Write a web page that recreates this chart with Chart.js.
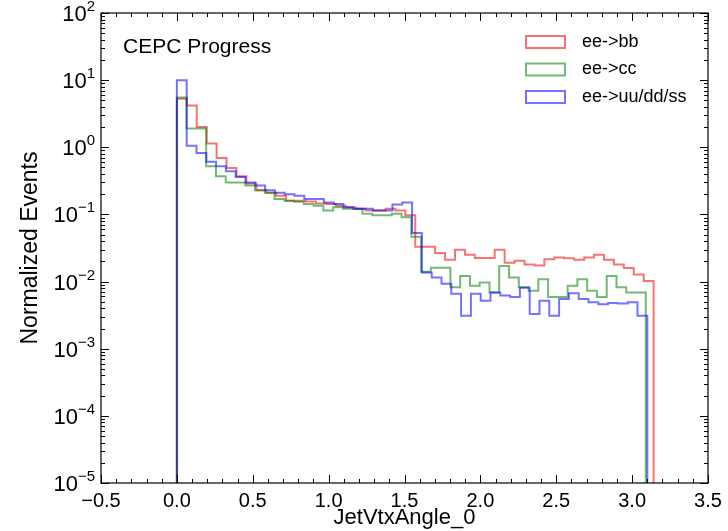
<!DOCTYPE html>
<html>
<head>
<meta charset="utf-8">
<script src="https://cdn.jsdelivr.net/npm/chart.js@4.4.1/dist/chart.umd.min.js"></script>
<style>
  html, body { margin: 0; padding: 0; background: #fff; }
  #wrap { width: 728px; height: 531px; }
</style>
</head>
<body>
<div id="wrap"><canvas id="jetChart" width="728" height="531"></canvas></div>
<script>
// histogram contents, 48 bins per sample
const nBins = 48;
const bbRange = [0, 3.1416];
const ccRange = [0, 3.09];
const udsRange = [0, 3.10];

const bbValues = [5.3, 4.2, 2.0, 1.14, 0.69, 0.49, 0.37, 0.29, 0.23, 0.21, 0.19, 0.16,
  0.16, 0.156, 0.146, 0.143, 0.135, 0.128, 0.121, 0.114, 0.114, 0.121, 0.114, 0.097,
  0.033, 0.033, 0.0266, 0.0212, 0.0297, 0.025, 0.0225, 0.0225, 0.0297, 0.019, 0.0205, 0.018,
  0.0173, 0.0215, 0.0228, 0.0222, 0.0212, 0.0228, 0.025, 0.0212, 0.018, 0.0159, 0.0127, 0.0102];

const ccValues = [5.5, 1.9, 1.9, 0.52, 0.37, 0.30, 0.30, 0.27, 0.23, 0.21, 0.17, 0.16,
  0.155, 0.143, 0.135, 0.114, 0.128, 0.121, 0.121, 0.102, 0.097, 0.097, 0.102, 0.091,
  0.0466, 0.014, 0.016, 0.016, 0.0082, 0.0121, 0.0087, 0.0097, 0.0069, 0.017, 0.0115, 0.0082,
  0.0073, 0.0108, 0.0059, 0.0059, 0.0087, 0.0108, 0.0073, 0.0059, 0.0121, 0.0082, 0.0069, 0.0069];

const udsValues = [10, 1.05, 0.82, 0.61, 0.52, 0.44, 0.36, 0.30, 0.27, 0.23, 0.21, 0.20,
  0.19, 0.17, 0.17, 0.151, 0.143, 0.128, 0.121, 0.121, 0.114, 0.114, 0.14, 0.151,
  0.053, 0.0136, 0.0115, 0.0093, 0.0066, 0.0031, 0.0066, 0.0052, 0.0069, 0.0062, 0.0059, 0.0081,
  0.0033, 0.0052, 0.0031, 0.0055, 0.0067, 0.0055, 0.0049, 0.0046, 0.0048, 0.0047, 0.0049, 0.0031];

const seriesLabels = ['ee->bb', 'ee->cc', 'ee->uu/dd/ss'];
const seriesColors = ['rgba(240,0,0,0.55)', 'rgba(0,128,0,0.55)', 'rgba(0,0,255,0.55)'];

const xMin = -0.5, xMax = 3.5, xStep = 0.5;
const yDecades = [-5, -4, -3, -2, -1, 0, 1, 2];
const yMin = 1e-5, yMax = 1e2;

const FONT = "'Liberation Sans', Arial, Helvetica, sans-serif";

// outline of a step histogram: up at the first edge, down at the last
function stepPoints(range, values) {
  const w = (range[1] - range[0]) / nBins;
  const pts = [{ x: range[0], y: yMin }];
  values.forEach((v, i) => pts.push({ x: range[0] + i * w, y: v }));
  pts.push({ x: range[1], y: yMin });
  return pts;
}

function fmtX(v) {
  const s = Math.abs(v).toFixed(1);
  return v < -1e-9 ? '\u2212' + s : s;
}

const decorPlugin = {
  id: 'decor',
  afterDatasetsDraw(chart) {
    const { ctx, chartArea: a, scales: { x, y } } = chart;
    ctx.save();
    ctx.strokeStyle = '#000';
    ctx.lineWidth = 1.2;
    ctx.strokeRect(a.left, a.top, a.right - a.left, a.bottom - a.top);

    // inward ticks on all four sides
    ctx.lineWidth = 1;
    ctx.beginPath();
    for (let k = 0; k <= Math.round((xMax - xMin) / 0.1); k++) {
      const px = Math.round(x.getPixelForValue(xMin + k * 0.1)) + 0.5;
      const len = k % 5 === 0 ? 8 : 4;
      ctx.moveTo(px, a.bottom); ctx.lineTo(px, a.bottom - len);
      ctx.moveTo(px, a.top); ctx.lineTo(px, a.top + len);
    }
    yDecades.forEach(d => {
      for (let m = 1; m <= 9; m++) {
        if (d === yDecades[yDecades.length - 1] && m > 1) break;
        const py = Math.round(y.getPixelForValue(m * Math.pow(10, d))) + 0.5;
        const len = m === 1 ? 8 : 4;
        ctx.moveTo(a.left, py); ctx.lineTo(a.left + len, py);
        ctx.moveTo(a.right, py); ctx.lineTo(a.right - len, py);
      }
    });
    ctx.stroke();

    // y tick labels 10^n
    ctx.fillStyle = '#000';
    ctx.textBaseline = 'alphabetic';
    ctx.textAlign = 'left';
    yDecades.forEach(d => {
      const py = y.getPixelForValue(Math.pow(10, d));
      const exp = d < 0 ? '\u2212' + Math.abs(d) : String(d);
      ctx.font = '15px ' + FONT;
      const ew = ctx.measureText(exp).width;
      ctx.font = '22px ' + FONT;
      const bw = ctx.measureText('10').width;
      const right = a.left - 6;
      ctx.fillText('10', right - ew - bw, py + 8);
      ctx.font = '15px ' + FONT;
      ctx.fillText(exp, right - ew, py - 2);
    });

    // text label in the plot
    ctx.font = '21px ' + FONT;
    ctx.textBaseline = 'middle';
    ctx.fillText('CEPC Progress', 123, 47);

    // legend with open boxes
    chart.data.datasets.forEach((ds, i) => {
      const ty = 42 + i * 27.5;
      ctx.strokeStyle = ds.borderColor;
      ctx.lineWidth = 2;
      ctx.strokeRect(526, ty - 6, 39, 12);
      ctx.fillStyle = '#000';
      ctx.font = '18px ' + FONT;
      ctx.fillText(ds.label, 582, ty);
    });
    ctx.restore();
  }
};

const ctx = document.getElementById('jetChart').getContext('2d');
new Chart(ctx, {
  type: 'line',
  data: {
    datasets: [
      { label: seriesLabels[0], data: stepPoints(bbRange, bbValues), borderColor: seriesColors[0], order: 3 },
      { label: seriesLabels[1], data: stepPoints(ccRange, ccValues), borderColor: seriesColors[1], order: 2 },
      { label: seriesLabels[2], data: stepPoints(udsRange, udsValues), borderColor: seriesColors[2], order: 1 }
    ].map(ds => Object.assign(ds, {
      stepped: 'before',
      borderWidth: 2,
      pointRadius: 0,
      fill: false,
      tension: 0
    }))
  },
  options: {
    responsive: false,
    animation: false,
    devicePixelRatio: 1,
    layout: { padding: { left: 0, right: 20, top: 13, bottom: 0 } },
    plugins: {
      legend: { display: false },
      tooltip: { enabled: false }
    },
    scales: {
      x: {
        type: 'linear',
        min: xMin,
        max: xMax,
        grid: { display: false, drawTicks: false },
        border: { display: false },
        ticks: {
          stepSize: xStep,
          maxRotation: 0,
          autoSkip: false,
          padding: 6,
          color: '#000',
          font: { family: FONT, size: 20 },
          callback: v => fmtX(v)
        },
        title: {
          display: true,
          text: 'JetVtxAngle_0',
          color: '#000',
          font: { family: FONT, size: 22 },
          padding: { top: 0, bottom: 0 }
        },
        afterFit: s => { s.height = 48; }
      },
      y: {
        type: 'logarithmic',
        min: yMin,
        max: yMax,
        grid: { display: false, drawTicks: false },
        border: { display: false },
        ticks: { display: false },
        title: {
          display: true,
          text: 'Normalized Events',
          color: '#000',
          font: { family: FONT, size: 23 },
          padding: { top: 17, bottom: 0 }
        },
        afterFit: s => { s.width = 101; }
      }
    }
  },
  plugins: [decorPlugin]
});
</script>
</body>
</html>
